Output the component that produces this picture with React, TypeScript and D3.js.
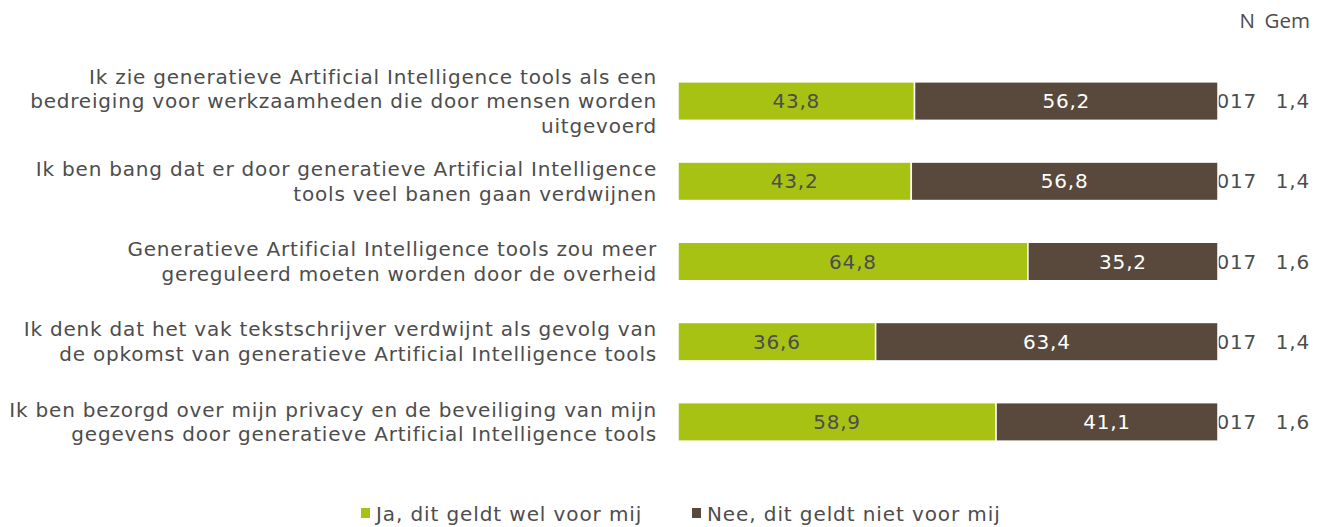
import React from 'react';
import * as d3 from 'd3';

const statements = [
  ['Ik zie generatieve Artificial Intelligence tools als een', 'bedreiging voor werkzaamheden die door mensen worden', 'uitgevoerd'],
  ['Ik ben bang dat er door generatieve Artificial Intelligence', 'tools veel banen gaan verdwijnen'],
  ['Generatieve Artificial Intelligence tools zou meer', 'gereguleerd moeten worden door de overheid'],
  ['Ik denk dat het vak tekstschrijver verdwijnt als gevolg van', 'de opkomst van generatieve Artificial Intelligence tools'],
  ['Ik ben bezorgd over mijn privacy en de beveiliging van mijn', 'gegevens door generatieve Artificial Intelligence tools'],
];
const jaValues = [43.8, 43.2, 64.8, 36.6, 58.9];
const neeValues = [56.2, 56.8, 35.2, 63.4, 41.1];
const nValues = ['1017', '1017', '1017', '1017', '1017'];
const gemValues = ['1,4', '1,4', '1,6', '1,4', '1,6'];
const seriesNames = ['Ja, dit geldt wel voor mij', 'Nee, dit geldt niet voor mij'];
const colors = ['#A8C214', '#58493C'];

const FONT = '"DejaVu Sans", Verdana, sans-serif';
const TEXT = '#4d4d4d';
const fmt = (v: number) => v.toFixed(1).replace('.', ',');

export default function App() {
  const W = 1328;
  const H = 527;
  const x = d3.scaleLinear().domain([0, 100]).range([678, 1218]);
  const y = d3.scaleBand<number>().domain(d3.range(statements.length)).range([61, 462]).paddingInner(0.52).paddingOuter(0.26);
  const bh = y.bandwidth();

  return (
    <svg width={W} height={H} style={{ position: 'absolute', left: 0, top: 0 }} fontFamily={FONT}>
      <rect width={W} height={H} fill="#fff" />
      {/* column headers */}
      <text x={1255} y={28} textAnchor="end" fontSize={20.5} fill={TEXT} fontFamily='"Open Sans", sans-serif'>N</text>
      <text x={1310} y={28} textAnchor="end" fontSize={20.5} fill={TEXT} fontFamily='"Open Sans", sans-serif'>Gem</text>
      {statements.map((lines, i) => {
        const cy = (y(i) as number) + bh / 2;
        const lh = 24.5;
        const start = cy - ((lines.length - 1) * lh) / 2;
        const j = jaValues[i];
        const n = neeValues[i];
        return (
          <g key={i}>
            <text x={657} textAnchor="end" fontSize={20} fill={TEXT} letterSpacing={0.8}>
              {lines.map((l, k) => (
                <tspan key={k} x={657} y={start + k * lh} dy="0.35em">{l}</tspan>
              ))}
            </text>
            {/* N column sits partly under the bars */}
            <text x={1257} y={cy} dy="0.35em" textAnchor="end" fontSize={20} fill={TEXT} letterSpacing={0.8}>{nValues[i]}</text>
            <text x={1310} y={cy} dy="0.35em" textAnchor="end" fontSize={20} fill={TEXT} letterSpacing={0.8}>{gemValues[i]}</text>
            <rect x={x(0)} y={y(i)} width={x(j) - x(0)} height={bh} fill={colors[0]} stroke="#fff" strokeWidth={1.5} />
            <rect x={x(j)} y={y(i)} width={x(j + n) - x(j)} height={bh} fill={colors[1]} stroke="#fff" strokeWidth={1.5} />
            <text x={(x(0) + x(j)) / 2} y={cy} dy="0.35em" textAnchor="middle" fontSize={20} fill={TEXT} letterSpacing={0.8}>{fmt(j)}</text>
            <text x={(x(j) + x(j + n)) / 2} y={cy} dy="0.35em" textAnchor="middle" fontSize={20} fill="#ffffff" letterSpacing={0.8}>{fmt(n)}</text>
          </g>
        );
      })}
      {seriesNames.map((s, i) => {
        const lx = [361, 692][i];
        return (
          <g key={s}>
            <rect x={lx} y={508} width={9} height={10} fill={colors[i]} />
            <text x={lx + 15} y={521} fontSize={20} fill={TEXT} letterSpacing={0.9}>{s}</text>
          </g>
        );
      })}
    </svg>
  );
}
